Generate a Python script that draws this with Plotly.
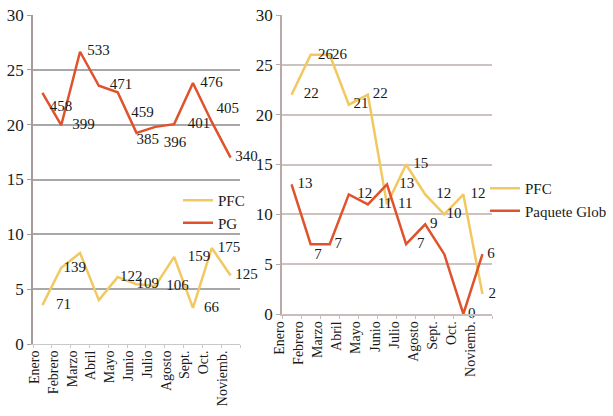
import plotly.graph_objects as go

months = ["Enero", "Febrero", "Marzo", "Abril", "Mayo", "Junio", "Julio",
          "Agosto", "Sept.", "Oct.", "Noviemb."]

# Left chart (values as plotted on the 0-30 scale, with their data labels)
left_pfc_y = [3.55, 6.95, 8.3, 4.0, 6.1, 5.45, 5.3, 7.95, 3.3, 8.75, 6.25]
left_pfc_labels = ["71", "139", "", "", "122", "109", "106", "159", "66", "175", "125"]
left_pg_y = [22.9, 19.95, 26.65, 23.55, 22.95, 19.25, 19.8, 20.05, 23.8, 20.25, 17.0]
left_pg_labels = ["458", "399", "533", "471", "459", "385", "396", "401", "476", "405", "340"]

# Right chart
right_pfc = [22, 26, 26, 21, 22, 11, 15, 12, 10, 12, 2]
right_pfc_labels = ["22", "26", "26", "21", "22", "11", "15", "12", "10", "12", "2"]
right_pg = [13, 7, 7, 12, 11, 13, 7, 9, 6, 0, 6]
right_pg_labels = ["13", "7", "7", "12", "11", "13", "7", "9", "", "0", "6"]

YELLOW = "#F2C860"
RED = "#E0522C"
FONT = "Liberation Serif"
TXT = "#1a1a1a"

# label placement (style only): position and invisible marker size that sets the gap
left_pfc_pos = "middle right"
left_pfc_gap = [20, 2, 6, 6, 2, 0, 16, 20, 16, 8, 6]
left_pg_pos = ["bottom right", "middle right", "middle right", "middle right", "bottom right",
               "bottom right", "bottom right", "middle right", "middle right", "top right",
               "middle right"]
left_pg_gap = [10, 16, 10, 16, 20, 0, 12, 20, 10, 6, 6]
right_pfc_pos = "middle right"
right_pfc_gap = [18, 10, 2, 6, 6, 16, 10, 16, 2, 10, 8]
right_pg_pos = ["middle right", "bottom right", "middle right", "middle right", "middle right",
                "middle right", "middle right", "middle right", "middle right", "middle right",
                "middle right"]
right_pg_gap = [8, 4, 6, 12, 14, 18, 16, 6, 6, 6, 6]

fig = go.Figure()


def add(x, y, text, pos, gap, name, color, xa, ya, lg):
    fig.add_trace(go.Scatter(x=x, y=y, text=text, mode="lines+markers+text",
                             textposition=pos, name=name,
                             line=dict(color=color, width=2.5),
                             marker=dict(size=gap, color="rgba(0,0,0,0)", opacity=0,
                                         line=dict(width=0, color="rgba(0,0,0,0)")),
                             textfont=dict(family=FONT, size=15, color=TXT),
                             cliponaxis=False, xaxis=xa, yaxis=ya, legend=lg))


add(months, left_pfc_y, left_pfc_labels, left_pfc_pos, left_pfc_gap, "PFC", YELLOW, "x", "y", "legend")
add(months, left_pg_y, left_pg_labels, left_pg_pos, left_pg_gap, "PG", RED, "x", "y", "legend")
add(months, right_pfc, right_pfc_labels, right_pfc_pos, right_pfc_gap, "PFC", YELLOW, "x2", "y2", "legend2")
add(months, right_pg, right_pg_labels, right_pg_pos, right_pg_gap, "Paquete Glob", RED, "x2", "y2", "legend2")

W, H = 613, 416


def xd(a, b):
    return [a / W, b / W]


def yd(top, bottom):
    return [1 - bottom / H, 1 - top / H]


xcommon = dict(type="category", range=[-0.5, 10.5], autorange=False, automargin=False,
               showgrid=False, showline=True, ticks="outside", ticklen=3,
               tickson="boundaries", tickangle=-90, zeroline=False,
               tickfont=dict(family=FONT, size=14, color=TXT))
ycommon = dict(range=[0, 30], autorange=False, automargin=False, dtick=5, showline=True,
               ticks="outside", ticklen=4,
               zeroline=False, tickfont=dict(family=FONT, size=17, color=TXT))

fig.update_layout(
    width=W, height=H,
    margin=dict(l=0, r=0, t=0, b=0),
    paper_bgcolor="white", plot_bgcolor="white",
    font=dict(family=FONT, color=TXT),
    showlegend=True,
    hovermode=False,
    xaxis=dict(domain=xd(33, 240), anchor="y", linecolor="#C8C8C8", tickcolor="#C8C8C8",
               ticklabelshift=-8, **xcommon),
    yaxis=dict(domain=yd(15, 344), anchor="x", gridcolor="#A8A8A8", gridwidth=1.5,
               linecolor="#A89C9A", tickcolor="#A89C9A", linewidth=1.5, **ycommon),
    xaxis2=dict(domain=xd(282, 492), anchor="y2", linecolor="#C9BDBB", tickcolor="#C9BDBB",
                linewidth=1.5, ticklabelshift=-12, **xcommon),
    yaxis2=dict(domain=yd(15, 314), anchor="x2", gridcolor="#CCC2C0", gridwidth=2,
                linecolor="#B8AAA8", tickcolor="#B8AAA8", linewidth=1.5, **ycommon),
    legend=dict(x=178 / W, y=1 - 184 / H, xanchor="left", yanchor="top",
                bgcolor="rgba(0,0,0,0)", font=dict(family=FONT, size=15, color=TXT),
                tracegroupgap=0),
    legend2=dict(x=485 / W, y=1 - 172 / H, xanchor="left", yanchor="top",
                 bgcolor="rgba(0,0,0,0)", font=dict(family=FONT, size=15, color=TXT),
                 tracegroupgap=0),
)

fig.write_html("out.html",
               config={"displayModeBar": False},
               post_script="document.body.style.margin='0';"
                           "document.body.style.overflow='hidden';")
